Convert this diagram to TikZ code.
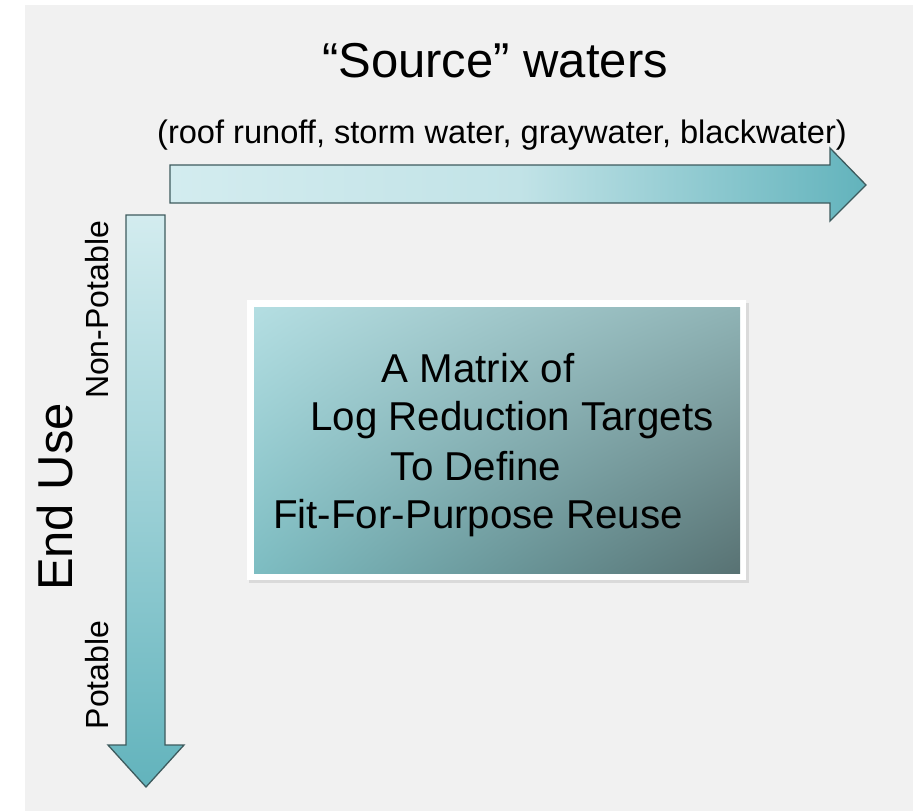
\documentclass[tikz,border=0pt]{standalone}
\usepackage{fontspec}
\setmainfont{Liberation Sans}
\usetikzlibrary{shadings}
\definecolor{bgpanel}{HTML}{F1F1F1}
\definecolor{arrlight}{HTML}{D3ECEF}
\definecolor{arrmid}{HTML}{C2E3E7}
\definecolor{arrdark}{HTML}{62B3BC}
\definecolor{arredge}{HTML}{3E5B5E}
\definecolor{boxul}{HTML}{B4DEE2}
\definecolor{boxur}{HTML}{8FB3B5}
\definecolor{boxll}{HTML}{7DBDC2}
\definecolor{boxlr}{HTML}{587273}
\tikzset{
  arrowbody/.style={draw=arredge, line width=1.3pt, line join=miter},
  bigtxt/.style={font=\fontsize{49}{55}\selectfont, inner sep=0pt},
  midtxt/.style={font=\fontsize{32.6}{38}\selectfont, inner sep=0pt},
  sidetxt/.style={font=\fontsize{32}{38}\selectfont, inner sep=0pt},
  boxtxt/.style={font=\fontsize{40.3}{46}\selectfont, inner sep=0pt, anchor=base},
}
\begin{document}
\begin{tikzpicture}[x=1pt,y=-1pt]
\useasboundingbox (0,0) rectangle (913,811);
\fill[white] (0,0) rectangle (913,811);
\fill[bgpanel] (25,5) rectangle (913,811);

% titles
\node[bigtxt, anchor=base] (title) at (495,77) {“Source” waters};
\node[midtxt, anchor=base] (sub) at (502,143) {(roof runoff, storm water, graywater, blackwater)};

% horizontal arrow
\shade[arrowbody, left color=arrlight, right color=arrdark, middle color=arrmid]
  (170,165) -- (830,165) -- (830,148) -- (866,185) -- (830,221) -- (830,203) -- (170,203) -- cycle;

% vertical arrow
\shade[arrowbody, top color=arrlight, bottom color=arrdark]
  (126,215) -- (165,215) -- (165,745) -- (184,745) -- (146,787) -- (108,745) -- (126,745) -- cycle;

% side labels
\node[bigtxt, rotate=90, anchor=base] (enduse) at (72,497) {End Use};
\node[sidetxt, rotate=90, anchor=base] (nonpot) at (108,310) {Non-Potable};
\node[sidetxt, rotate=90, anchor=base] (pot) at (108,675) {Potable};

% box
\fill[black!20, opacity=0.6] (249,303) rectangle (749,583);
\fill[white] (247,300) rectangle (746,580);
\shade[upper left=boxul, upper right=boxur, lower left=boxll, lower right=boxlr]
  (254,307) rectangle (740,573);
\node[boxtxt] (l1) at (478,382) {A Matrix of};
\node[boxtxt] (l2) at (512,430) {Log Reduction Targets};
\node[boxtxt] (l3) at (476,480) {To Define};
\node[boxtxt] (l4) at (478,528) {Fit-For-Purpose Reuse};
\end{tikzpicture}
\end{document}
